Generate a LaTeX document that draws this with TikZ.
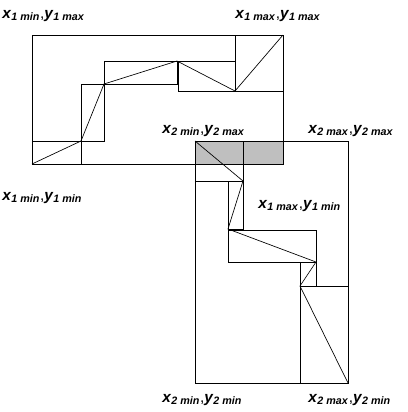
\documentclass[tikz,border=0pt]{standalone}
\usepackage{fontspec}
\setmainfont{Liberation Sans}
\usetikzlibrary{positioning}

\newcommand{\corner}[4]{\textit{\textbf{#1}}\textsubscript{\textit{\textbf{#2}}},\textit{\textbf{#3}}\textsubscript{\textit{\textbf{#4}}}}

\begin{document}
\begin{tikzpicture}[
  x=0.75pt, y=-0.75pt,
  edge/.style={draw, line width=0.6pt},
  lbl/.style={font=\fontsize{11.5}{14}\selectfont, inner sep=0pt, anchor=base west}
]
\useasboundingbox (0,0) rectangle (408,412);
% overlap of the two boxes
\fill[black!25] (195,141) rectangle (283,164);
% outer boxes
\draw[edge] (32,35) rectangle (283,164);
\draw[edge] (195,141) rectangle (348,383);
% sub boxes, first curve
\draw[edge] (32,141) -- (81,141);
\draw[edge] (81,84) -- (81,164);
\draw[edge] (81,84) rectangle (104,141);
\draw[edge] (104,61) rectangle (177,84);
\draw[edge] (178,61) rectangle (235,91);
\draw[edge] (235,35) -- (235,91) -- (283,91);
% sub boxes, second curve
\draw[edge] (195,181) -- (243,181);
\draw[edge] (243,141) -- (243,229);
\draw[edge] (228,181) rectangle (243,229);
\draw[edge] (228,230) rectangle (316,262);
\draw[edge] (300,262) rectangle (316,286);
\draw[edge] (300,286) -- (348,286);
\draw[edge] (300,286) -- (300,383);
% curve points
\coordinate (a0) at (32,164);
\coordinate (a1) at (81,141);
\coordinate (a2) at (104,84);
\coordinate (a3) at (177,61);
\coordinate (a4) at (235,91);
\coordinate (a5) at (283,35);
\coordinate (b0) at (195,141);
\coordinate (b1) at (243,181);
\coordinate (b2) at (228,229);
\coordinate (b3) at (316,262);
\coordinate (b4) at (300,286);
\coordinate (b5) at (348,383);
\draw[line width=0.5pt] (a0) -- (a1) -- (a2) -- (a3) -- (a4) -- (a5);
\draw[line width=0.5pt] (b0) -- (b1) -- (b2) -- (b3) -- (b4) -- (b5);
% labels
\node[lbl] (tl1) at (2,18) {\corner{x}{1 min}{y}{1 max}};
\node[lbl] (tr1) at (235,18) {\corner{x}{1 max}{y}{1 max}};
\node[lbl] (bl1) at (2,200) {\corner{x}{1 min}{y}{1 min}};
\node[lbl] (br1) at (258,208) {\corner{x}{1 max}{y}{1 min}};
\node[lbl] (tl2) at (162,133) {\corner{x}{2 min}{y}{2 max}};
\node[lbl] (tr2) at (308,133) {\corner{x}{2 max}{y}{2 max}};
\node[lbl] (bl2) at (162,402) {\corner{x}{2 min}{y}{2 min}};
\node[lbl] (br2) at (308,402) {\corner{x}{2 max}{y}{2 min}};
\end{tikzpicture}
\end{document}
